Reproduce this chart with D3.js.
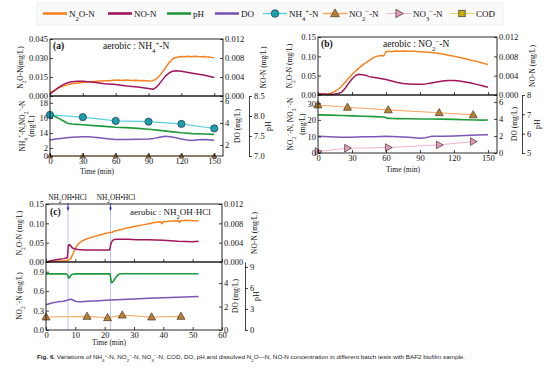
<!DOCTYPE html>
<html>
<head>
<meta charset="utf-8">
<script src="https://cdnjs.cloudflare.com/ajax/libs/d3/7.8.5/d3.min.js"></script>
<style>
body { margin: 0; background: #fff; }
svg { display: block; }
</style>
</head>
<body>
<svg id="chart" width="554" height="370"></svg>
<script>
// ---- panel (a): aerobic NH4+-N ----
const aN2O_t = [0,3,6,9,12,15,18,21,24,27,30,34,38,42,46,50,54,58,62,66,70,74,78,82,86,90,94,97,100,102,104,106,108,110,112,114,117,120,123,126,129,132,135,138,141,144,147,150];
const aN2O = [0.003,0.004,0.0055,0.0068,0.0078,0.0086,0.0093,0.0098,0.0101,0.0104,0.0106,0.0110,0.0114,0.0116,0.0119,0.0121,0.0120,0.0124,0.0127,0.0123,0.0126,0.0122,0.0124,0.0120,0.0123,0.0119,0.0121,0.0134,0.0160,0.0182,0.0206,0.0230,0.0255,0.0275,0.0292,0.0302,0.0307,0.0311,0.0309,0.0313,0.0310,0.0314,0.0311,0.0309,0.0312,0.0307,0.0305,0.0301];
const aNO_t = [0,4,8,12,16,20,25,30,35,40,50,60,70,80,90,94,97,100,103,106,109,112,115,120,130,140,150];
const aNO = [0.0004,0.0011,0.0018,0.0024,0.0028,0.0030,0.0031,0.0031,0.0030,0.0029,0.0026,0.0024,0.0021,0.0019,0.0016,0.0014,0.0018,0.0026,0.0035,0.0043,0.0049,0.0052,0.0053,0.0052,0.0048,0.0044,0.0039];
const aSample_t = [0,30,60,90,120,150];
const aNH4 = [16.4,16.1,15.6,15.5,15.2,14.6];
const aNO2 = [0,0,0,0,0,0];
const apH_t = [0,2,4,6,8,10,12,14,16,18,20,25,30,40,50,60,70,80,90,100,110,120,130,140,150];
const apH = [8.06,8.03,8.0,7.97,7.94,7.91,7.88,7.85,7.82,7.81,7.80,7.79,7.78,7.76,7.74,7.72,7.71,7.69,7.67,7.64,7.61,7.58,7.56,7.55,7.54];
const aDO_t = [0,5,10,15,20,25,30,35,40,45,50,55,60,70,80,90,95,100,105,110,115,120,125,130,135,140,145,150];
const aDO = [2.45,2.55,2.6,2.65,2.7,2.72,2.75,2.74,2.7,2.65,2.6,2.55,2.5,2.5,2.52,2.55,2.6,2.7,2.8,2.75,2.65,2.55,2.45,2.4,2.48,2.5,2.47,2.43];

// ---- panel (b): aerobic NO2--N ----
const bN2O_t = [0,4,8,11,14,17,20,23,26,29,32,35,38,41,44,47,50,53,56,58,59,60,62,65,68,72,76,80,85,90,95,100,105,110,115,120,125,130,135,140,145,150];
const bN2O = [0.002,0.002,0.002,0.004,0.008,0.013,0.020,0.030,0.040,0.050,0.059,0.067,0.074,0.081,0.087,0.093,0.098,0.101,0.102,0.101,0.106,0.112,0.113,0.112,0.114,0.113,0.114,0.113,0.113,0.112,0.111,0.110,0.108,0.106,0.103,0.100,0.097,0.094,0.090,0.087,0.083,0.079];
const bNO_t = [0,5,10,15,18,21,24,27,30,33,36,39,42,45,50,55,60,65,70,75,80,85,90,95,100,105,110,115,120,125,130,135,140,145,150];
const bNO = [0.0002,0.0002,0.0001,0.0002,0.0003,0.0006,0.0014,0.0024,0.0033,0.0040,0.0043,0.0042,0.0041,0.0038,0.0036,0.0034,0.0032,0.0029,0.0026,0.0024,0.0023,0.0022,0.0022,0.0023,0.0025,0.0027,0.0029,0.0030,0.0030,0.0029,0.0027,0.0025,0.0022,0.0019,0.0016];
const bSample_t = [0,26,62,107,137];
const bNO2 = [29,27.6,26,24.3,23];
const bNO3 = [0.9,2.9,3.3,4.9,6.9];
const bpH_t = [0,10,20,30,40,50,58,60,61,62,65,70,80,90,100,110,120,130,140,145,150];
const bpH = [6.97,6.96,6.94,6.92,6.90,6.88,6.86,6.84,6.79,6.80,6.79,6.78,6.77,6.76,6.76,6.75,6.74,6.72,6.71,6.70,6.71];
const bDO_t = [0,10,20,30,40,50,60,70,80,85,90,95,100,110,120,130,140,150];
const bDO = [1.95,1.9,1.85,1.85,1.9,1.9,1.95,1.9,1.85,1.8,1.72,1.8,1.95,1.95,2.0,2.05,2.1,2.15];

// ---- panel (c): aerobic NH2OH-HCl ----
const cN2O_t = [0,2,4,6,7,7.5,8,8.5,9,9.5,10,10.5,11,12,13,14,16,18,20,21.5,22.5,23.5,25,27,29,31,33,35,37,39,39.5,40,41,43,45,45.5,46,48,50,52];
const cN2O = [0,0.001,0.002,0.003,0.004,0.005,0.006,0.010,0.018,0.027,0.035,0.042,0.047,0.053,0.057,0.060,0.065,0.069,0.073,0.076,0.077,0.080,0.083,0.087,0.090,0.093,0.096,0.099,0.102,0.104,0.099,0.104,0.105,0.106,0.107,0.103,0.107,0.108,0.107,0.107];
const cNO_t = [0,2,4,6,7.3,7.6,8,8.5,9,10,11,13,16,19,21.7,22.1,22.5,23,24,26,28,31,35,40,45,50,52];
const cNO = [0,0.0003,0.0005,0.0007,0.0009,0.0034,0.0036,0.0033,0.0029,0.0027,0.0026,0.0025,0.0025,0.0025,0.0025,0.0037,0.0043,0.0046,0.0047,0.0047,0.0047,0.0046,0.0046,0.0045,0.0043,0.0042,0.0043];
const cSample_t = [0,14,21,26,36,46];
const cNO2 = [0.20,0.21,0.19,0.23,0.20,0.21];
const cpH_t = [0,7,7.4,7.7,8.0,8.5,9,10,15,21.8,22.0,22.3,22.6,23,23.5,24,24.5,25,26,30,40,52];
const cpH = [8.0,8.0,7.8,7.4,7.5,7.8,7.95,8.0,8.0,8.0,7.6,6.75,6.8,7.0,7.3,7.6,7.85,7.98,8.03,8.03,8.02,8.02];
const cDO_t = [0,2,4,6,8,8.5,9,10,11,12,14,18,22,26,30,35,40,45,52];
const cDO = [2.15,2.3,2.4,2.45,2.6,2.62,2.58,2.45,2.4,2.42,2.45,2.5,2.55,2.6,2.65,2.7,2.75,2.8,2.85];
const cInject = [7.5, 22];

const legendLabels = ["N_2O-N", "NO-N", "pH", "DO", "NH_4^+-N", "NO_2^--N", "NO_3^--N", "COD"];

const FONT = "'Liberation Serif','DejaVu Serif',serif";
const col = {
  n2o: "#f7821e", no: "#a3155c", ph: "#1f9a3c", dox: "#7b56b5",
  nh4: "#5ccfe0", nh4Fill: "#1b9fae", no2: "#f5ab68", no2Fill: "#b5823a",
  no3: "#f2b3cf", no3Fill: "#e29ac0", cod: "#f0d060", codFill: "#c9b000"
};

const svg = d3.select("#chart");

// text with _x subscripts and ^x superscripts
function rich(sel, str, fs) {
  str.split(/([_^].)/).filter(s => s).forEach(s => {
    const ts = sel.append("tspan");
    if (s.length === 2 && s[0] === "_") ts.text(s[1]).attr("baseline-shift", "sub").attr("font-size", fs * 0.72);
    else if (s.length === 2 && s[0] === "^") ts.text(s[1] === "-" ? "\u2212" : s[1]).attr("baseline-shift", "super").attr("font-size", fs * 0.72);
    else ts.text(s);
  });
  return sel;
}

function label(x, y, str, fs, opt = {}) {
  const t = svg.append("text")
    .attr("x", x).attr("y", y)
    .attr("font-size", fs).attr("font-family", opt.family || FONT)
    .attr("fill", "#111")
    .attr("text-anchor", opt.anchor || "start");
  if (opt.rotate) t.attr("transform", `rotate(-90,${x},${y})`);
  if (opt.bold) t.attr("font-weight", "bold");
  return rich(t, str, fs);
}

function marker(type, cx, cy, fill, r) {
  if (type === "circle") {
    svg.append("circle").attr("cx", cx).attr("cy", cy).attr("r", r)
      .attr("fill", fill).attr("stroke", "#234").attr("stroke-width", 0.7);
  } else if (type === "square") {
    svg.append("rect").attr("x", cx - r).attr("y", cy - r).attr("width", 2 * r).attr("height", 2 * r)
      .attr("fill", fill).attr("stroke", "#333").attr("stroke-width", 0.7);
  } else {
    const p = type === "up"
      ? `M${cx},${cy - r}L${cx + r * 0.95},${cy + r * 0.7}L${cx - r * 0.95},${cy + r * 0.7}Z`
      : `M${cx - r * 0.7},${cy - r * 0.95}L${cx + r},${cy}L${cx - r * 0.7},${cy + r * 0.95}Z`;
    svg.append("path").attr("d", p).attr("fill", fill).attr("stroke", "#4a3320").attr("stroke-width", 0.7);
  }
}

function styleAxis(g) {
  g.attr("font-family", FONT).attr("font-size", 8.5);
  g.selectAll("text").attr("fill", "#111");
  g.selectAll("line").attr("stroke", "#111").attr("stroke-width", 0.8);
  g.selectAll(".domain").attr("stroke", "#111").attr("stroke-width", 0.8);
}

function putAxis(axis, tx, ty, keepDomain) {
  const g = svg.append("g").attr("transform", `translate(${tx},${ty})`).call(axis);
  if (!keepDomain) g.select(".domain").remove();
  styleAxis(g);
  return g;
}

function drawPanel(p) {
  const [xa, xb] = p.x.range();
  const s = p.scales;

  (p.inject || []).forEach(t => {
    svg.append("line").attr("x1", p.x(t)).attr("x2", p.x(t))
      .attr("y1", p.top[0]).attr("y2", p.bot[1])
      .attr("stroke", "#aeb6ea").attr("stroke-width", 0.8);
  });

  p.series.forEach(d => {
    const y = s[d.axis];
    const pts = d3.zip(d.t, d.v);
    svg.append("path").datum(pts)
      .attr("d", d3.line().x(q => p.x(q[0])).y(q => y(q[1])))
      .attr("fill", "none").attr("stroke", d.color)
      .attr("stroke-width", d.w).attr("stroke-linejoin", "round");
    if (d.marker) pts.forEach(q => marker(d.marker, p.x(q[0]), y(q[1]), d.fill, d.r));
  });

  [p.top, p.bot].forEach(r => {
    svg.append("rect").attr("x", xa).attr("y", r[0])
      .attr("width", xb - xa).attr("height", r[1] - r[0])
      .attr("fill", "none").attr("stroke", "#111").attr("stroke-width", 0.9);
  });

  putAxis(d3.axisLeft(s.n2o).tickValues(p.n2oTicks).tickFormat(d3.format(p.n2oFmt)).tickSize(-3).tickPadding(2), xa, 0);
  putAxis(d3.axisRight(s.no).tickValues([0, 0.004, 0.008, 0.012]).tickFormat(d3.format(".3f")).tickSize(-3).tickPadding(2), xb, 0);
  putAxis(d3.axisBottom(p.x).tickValues(p.xTicks).tickFormat("").tickSize(-3), 0, p.top[1]);
  putAxis(d3.axisLeft(s.left).tickValues(p.leftTicks).tickFormat(d3.format(p.leftFmt)).tickSize(-3).tickPadding(2), xa, 0);
  putAxis(d3.axisRight(s.dox).tickValues(p.doTicks).tickFormat(d3.format("d")).tickSize(-3).tickPadding(2), xb, 0);
  putAxis(d3.axisRight(s.ph).tickValues(p.phTicks).tickFormat(d3.format(p.phFmt)).tickSize(3).tickSizeOuter(0).tickPadding(2), p.phX, 0, true);
  putAxis(d3.axisBottom(p.x).tickValues(p.xTicks).tickFormat(d3.format("d")).tickSize(-3).tickPadding(2), 0, p.bot[1]);
}

// ---------- panel (a) ----------
const xa = d3.scaleLinear().domain([0, 158]).range([50, 223]);
drawPanel({
  x: xa, top: [39, 96], bot: [96, 156], phX: 249,
  xTicks: d3.range(0, 151, 30),
  scales: {
    n2o: d3.scaleLinear().domain([0, 0.045]).range([96, 39]),
    no: d3.scaleLinear().domain([0, 0.012]).range([96, 39]),
    left: d3.scaleLinear().domain([0, 3, 13.4, 18.9]).range([156, 144, 137.5, 96]),
    dox: d3.scaleLinear().domain([1, 6.45]).range([156, 96]),
    ph: d3.scaleLinear().domain([7, 8.5]).range([156, 96])
  },
  n2oTicks: [0, 0.015, 0.03, 0.045], n2oFmt: ".3f",
  leftTicks: [0, 2, 14, 16, 18], leftFmt: "d",
  doTicks: [2, 4, 6],
  phTicks: [7, 7.5, 8, 8.5], phFmt: ".1f",
  series: [
    { t: aDO_t, v: aDO, axis: "dox", color: col.dox, w: 1.5 },
    { t: apH_t, v: apH, axis: "ph", color: col.ph, w: 1.6 },
    { t: aSample_t, v: aNO2, axis: "left", color: col.no2, w: 1, marker: "up", fill: col.no2Fill, r: 2.6 },
    { t: aSample_t, v: aNH4, axis: "left", color: col.nh4, w: 1.1, marker: "circle", fill: col.nh4Fill, r: 3.6 },
    { t: aN2O_t, v: aN2O, axis: "n2o", color: col.n2o, w: 1.5 },
    { t: aNO_t, v: aNO, axis: "no", color: col.no, w: 1.5 }
  ]
});
label(53, 49, "(a)", 9.5, { bold: true });
label(103, 49, "aerobic : NH_4^+-N", 9.5);
label(23, 67.5, "N_2O-N(mg/L)", 7.5, { rotate: true, anchor: "middle" });
label(25, 126, "NH_4^+-N,NO_2^--N", 7.5, { rotate: true, anchor: "middle" });
label(34, 126, "(mg/L)", 7.5, { rotate: true, anchor: "middle" });
label(266, 67.5, "NO-N (mg/L)", 7.5, { rotate: true, anchor: "middle" });
label(240, 126, "DO (mg/L)", 7.5, { rotate: true, anchor: "middle" });
label(271, 126, "pH", 8, { rotate: true, anchor: "middle" });
label(97, 174, "Time (min)", 7.5, { anchor: "middle" });

// ---------- panel (b) ----------
const xb = d3.scaleLinear().domain([0, 158]).range([318, 497]);
drawPanel({
  x: xb, top: [37, 95], bot: [95, 153], phX: 522,
  xTicks: d3.range(0, 151, 30),
  scales: {
    n2o: d3.scaleLinear().domain([0, 0.15]).range([95, 37]),
    no: d3.scaleLinear().domain([0, 0.012]).range([95, 37]),
    left: d3.scaleLinear().domain([0, 35]).range([153, 95]),
    dox: d3.scaleLinear().domain([0, 6.8]).range([153, 95]),
    ph: d3.scaleLinear().domain([5, 8]).range([153, 95])
  },
  n2oTicks: [0, 0.05, 0.1, 0.15], n2oFmt: ".2f",
  leftTicks: [0, 10, 20, 30], leftFmt: "d",
  doTicks: [0, 2, 4, 6],
  phTicks: [5, 6, 7, 8], phFmt: "d",
  series: [
    { t: bDO_t, v: bDO, axis: "dox", color: col.dox, w: 1.5 },
    { t: bpH_t, v: bpH, axis: "ph", color: col.ph, w: 1.6 },
    { t: bSample_t, v: bNO3, axis: "left", color: col.no3, w: 1, marker: "right", fill: col.no3Fill, r: 4 },
    { t: bSample_t, v: bNO2, axis: "left", color: col.no2, w: 1.1, marker: "up", fill: col.no2Fill, r: 4.2 },
    { t: bN2O_t, v: bN2O, axis: "n2o", color: col.n2o, w: 1.5 },
    { t: bNO_t, v: bNO, axis: "no", color: col.no, w: 1.5 }
  ]
});
label(321, 47, "(b)", 9.5, { bold: true });
label(383, 47, "aerobic : NO_2^--N", 9.5);
label(292, 66, "N_2O-N (mg/L)", 7.5, { rotate: true, anchor: "middle" });
label(293, 124, "NO_2^--N, NO_3^--N", 7.5, { rotate: true, anchor: "middle" });
label(305, 124, "(mg/L)", 7.5, { rotate: true, anchor: "middle" });
label(535, 66, "NO-N (mg/L)", 7.5, { rotate: true, anchor: "middle" });
label(517, 124, "DO (mg/L)", 7.5, { rotate: true, anchor: "middle" });
label(540, 124, "pH", 8, { rotate: true, anchor: "middle" });
label(403, 172, "Time (min)", 7.5, { anchor: "middle" });

// ---------- panel (c) ----------
const xc = d3.scaleLinear().domain([0, 60]).range([46, 222]);
drawPanel({
  x: xc, top: [204, 262], bot: [262, 330], phX: 245, inject: cInject,
  xTicks: d3.range(0, 61, 10),
  scales: {
    n2o: d3.scaleLinear().domain([0, 0.15]).range([262, 204]),
    no: d3.scaleLinear().domain([0, 0.012]).range([262, 204]),
    left: d3.scaleLinear().domain([0, 1.05]).range([330, 262]),
    dox: d3.scaleLinear().domain([0, 5.8]).range([330, 262]),
    ph: d3.scaleLinear().domain([0, 9.7]).range([330, 262])
  },
  n2oTicks: [0, 0.05, 0.1, 0.15], n2oFmt: ".2f",
  leftTicks: [0, 0.3, 0.6, 0.9], leftFmt: ".1f",
  doTicks: [0, 2, 4],
  phTicks: [0, 3, 6, 9], phFmt: "d",
  series: [
    { t: cDO_t, v: cDO, axis: "dox", color: col.dox, w: 1.5 },
    { t: cpH_t, v: cpH, axis: "ph", color: col.ph, w: 1.6 },
    { t: cSample_t, v: cNO2, axis: "left", color: col.no2, w: 1.1, marker: "up", fill: col.no2Fill, r: 4.2 },
    { t: cN2O_t, v: cN2O, axis: "n2o", color: col.n2o, w: 1.5 },
    { t: cNO_t, v: cNO, axis: "no", color: col.no, w: 1.5 }
  ]
});
const injectLabelX = [67.5, 116];
cInject.forEach((t, i) => {
  const x = xc(t);
  svg.append("line").attr("x1", x).attr("x2", x).attr("y1", 203).attr("y2", 209)
    .attr("stroke", "#2b43c4").attr("stroke-width", 0.9);
  svg.append("path").attr("d", `M${x - 1.6},${207.5}L${x + 1.6},${207.5}L${x},${211}Z`).attr("fill", "#2b43c4");
  label(injectLabelX[i], 200, "NH_2OH\u2022HCl", 7.3, { anchor: "middle" });
});
label(50, 215, "(c)", 9.5, { bold: true });
label(130, 215, "aerobic : NH_2OH\u00b7HCl", 9);
label(22, 233, "N_2O-N (mg/L)", 7.5, { rotate: true, anchor: "middle" });
label(22, 296, "NO_2^--N (mg/L)", 7.5, { rotate: true, anchor: "middle" });
label(257, 233, "NO-N (mg/L)", 7.5, { rotate: true, anchor: "middle" });
label(238, 296, "DO (mg/L)", 7.5, { rotate: true, anchor: "middle" });
label(259, 296, "pH", 8, { rotate: true, anchor: "middle" });
label(109, 345, "Time (min)", 7.5, { anchor: "middle" });

// ---------- legend ----------
svg.append("rect").attr("x", 37).attr("y", 3).attr("width", 466).attr("height", 22)
  .attr("fill", "#fafafa").attr("stroke", "#f0f0f0");
const legendX = [43, 108, 167, 215, 263, 323, 387, 450];
const legendStyle = [
  { color: col.n2o, w: 2.6 }, { color: col.no, w: 2.6 }, { color: col.ph, w: 2.6 }, { color: col.dox, w: 2.6 },
  { color: col.nh4, w: 1.4, marker: "circle", fill: col.nh4Fill, r: 3.8 },
  { color: col.no2, w: 1.6, marker: "up", fill: col.no2Fill, r: 4.6 },
  { color: col.no3, w: 1, marker: "right", fill: col.no3Fill, r: 4.4 },
  { color: col.cod, w: 1, marker: "square", fill: col.codFill, r: 3.2 }
];
legendLabels.forEach((name, i) => {
  const x = legendX[i], st = legendStyle[i], y = 13.5;
  svg.append("line").attr("x1", x).attr("x2", x + 24).attr("y1", y).attr("y2", y)
    .attr("stroke", st.color).attr("stroke-width", st.w);
  if (st.marker) marker(st.marker, x + 12, y, st.fill, st.r);
  label(x + 26, y + 3, name, 9);
});

// ---------- caption ----------
const cap = svg.append("text").attr("x", 37).attr("y", 359)
  .attr("font-family", "'Liberation Sans','DejaVu Sans',sans-serif").attr("font-size", 5.6).attr("fill", "#222")
  .attr("textLength", 428).attr("lengthAdjust", "spacingAndGlyphs");
cap.append("tspan").attr("font-weight", "bold").text("Fig. 6.");
rich(cap, " Variations of NH_4^+-N, NO_2^--N, NO_3^--N, COD, DO, pH and dissolved N_2O\u2014N, NO-N concentration in different batch tests with BAF2 biofilm sample.", 5.6);
</script>
</body>
</html>
